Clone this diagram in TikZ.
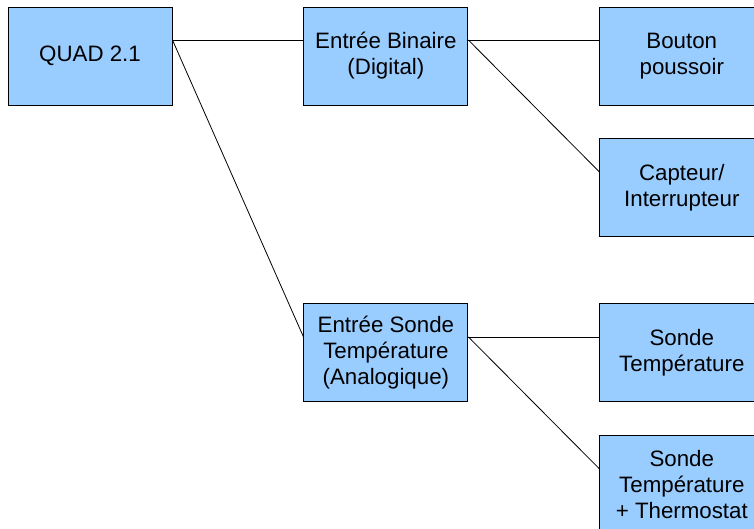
\documentclass[tikz,border=0pt]{standalone}
\usepackage{fontspec}
\setmainfont{Liberation Sans}
\usepackage{xcolor}
\usetikzlibrary{positioning}
\definecolor{boxblue}{RGB}{153, 204, 255}
\begin{document}
\begin{tikzpicture}[node distance=33pt and 131pt,box/.style={draw,line width=0.9pt,fill=boxblue,align=center,inner sep=0pt,minimum width=164pt,minimum height=98pt,font=\fontsize{22.3}{26}\selectfont},wire/.style={line width=0.8pt}]
\useasboundingbox (0pt,0pt) rectangle (754pt,-529pt);
\node[box](quad) at (90pt,-56pt){QUAD 2.1};
\node[box,right=of quad](bin){Entrée Binaire\\(Digital)}; \node[box,right=of bin](btn){Bouton\\poussoir};
\node[box,below=of btn](capt){Capteur/\\Interrupteur};
\node[box,below=198pt of bin](sonde){Entrée Sonde\\Température\\(Analogique)};
\node[box,right=of sonde](temp){Sonde\\Température}; \node[box,below=of temp](thermo){Sonde\\Température\\+ Thermostat};
\draw[wire]([yshift=16pt]quad.east)--([yshift=16pt]bin.west); \draw[wire]([yshift=16pt]quad.east)--([yshift=16pt]sonde.west);
\draw[wire]([yshift=16pt]bin.east)--([yshift=16pt]btn.west); \draw[wire]([yshift=16pt]bin.east)--([yshift=16pt]capt.west);
\draw[wire]([yshift=16pt]sonde.east)--([yshift=16pt]temp.west); \draw[wire]([yshift=16pt]sonde.east)--([yshift=16pt]thermo.west);
\end{tikzpicture}
\end{document}
